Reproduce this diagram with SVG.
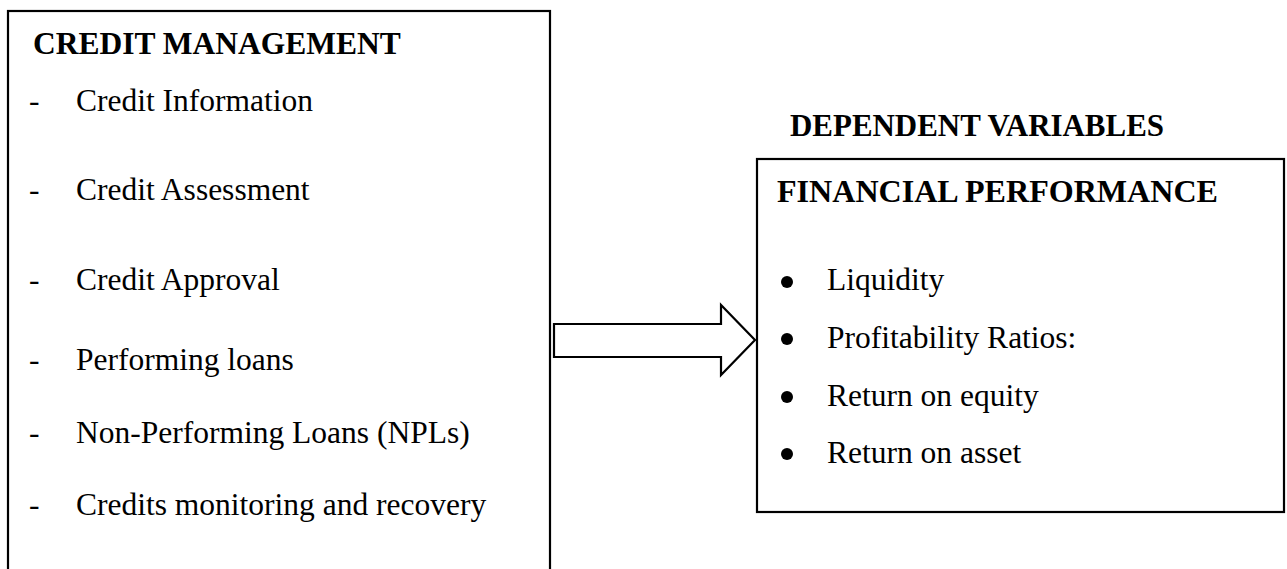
<svg xmlns="http://www.w3.org/2000/svg" width="1287" height="569" viewBox="0 0 1287 569">
<style>
.box{fill:#fff;stroke:#000;stroke-width:2.2}
.h{font-family:"Liberation Serif","Times New Roman",serif;font-size:31.5px;font-weight:bold;fill:#000}
.t{font-family:"Liberation Serif","Times New Roman",serif;font-size:31.5px;fill:#000}
.arrow{fill:#fff;stroke:#000;stroke-width:2.2;stroke-linejoin:miter}
</style>
<rect width="1287" height="569" fill="#fff"/>
<g id="credit-management">
<rect class="box" x="8" y="11" width="542" height="570"/>
<text class="h" x="33" y="54">CREDIT MANAGEMENT</text>
<text class="t" x="29" y="111">-</text><text class="t" x="76" y="111">Credit Information</text>
<text class="t" x="29" y="200">-</text><text class="t" x="76" y="200">Credit Assessment</text>
<text class="t" x="29" y="290">-</text><text class="t" x="76" y="290">Credit Approval</text>
<text class="t" x="29" y="370">-</text><text class="t" x="76" y="370">Performing loans</text>
<text class="t" x="29" y="443">-</text><text class="t" x="76" y="443">Non-Performing Loans (NPLs)</text>
<text class="t" x="29" y="515">-</text><text class="t" x="76" y="515">Credits monitoring and recovery</text>
</g>
<g id="connectors">
<polygon class="arrow" points="554,324 721,324 721,305 755,340 721,375 721,357 554,357"/>
</g>
<g id="dependent-label">
<text class="h" x="790" y="136" textLength="374" lengthAdjust="spacingAndGlyphs">DEPENDENT VARIABLES</text>
</g>
<g id="financial-performance">
<rect class="box" x="757" y="159" width="527" height="353"/>
<text class="h" x="777" y="202" textLength="441" lengthAdjust="spacingAndGlyphs">FINANCIAL PERFORMANCE</text>
<circle cx="787" cy="282" r="6"/><text class="t" x="827" y="290">Liquidity</text>
<circle cx="787" cy="339" r="6"/><text class="t" x="827" y="348">Profitability Ratios:</text>
<circle cx="787" cy="397" r="6"/><text class="t" x="827" y="406">Return on equity</text>
<circle cx="787" cy="454" r="6"/><text class="t" x="827" y="463">Return on asset</text>
</g>
</svg>
